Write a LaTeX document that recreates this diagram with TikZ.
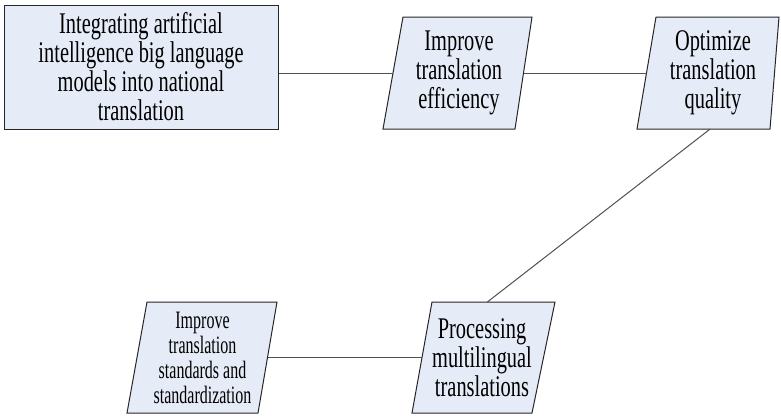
\documentclass[tikz,border=0pt]{standalone}
\usepackage{fontspec}
\setmainfont{Liberation Serif}
\newfontfamily\bigfont[FakeStretch=0.68]{Liberation Serif}
\newfontfamily\smallfont[FakeStretch=0.64]{Liberation Serif}
\usetikzlibrary{calc}
\definecolor{boxfill}{RGB}{230,236,247}
\definecolor{linegray}{RGB}{80,80,80}
\tikzset{
  box/.style={draw=black!85, line width=1pt, fill=boxfill},
  conn/.style={draw=linegray, line width=1pt},
  bigtext/.style={align=center, font=\bigfont\fontsize{30}{29}\selectfont, inner sep=0pt},
  smalltext/.style={align=center, font=\smallfont\fontsize{25}{25}\selectfont, inner sep=0pt}
}
% #1 style, #2 name, #3 ytop, #4 ybot, #5 tlx, #6 trx, #7 blx, #8 brx, #9 text
\newcommand\para[9][bigtext]{%
  \coordinate (#2-tl) at (#5,#3);
  \coordinate (#2-tr) at (#6,#3);
  \coordinate (#2-bl) at (#7,#4);
  \coordinate (#2-br) at (#8,#4);
  \draw[box] (#2-tl) -- (#2-tr) -- (#2-br) -- (#2-bl) -- cycle;
  \coordinate (#2-l) at ($(#2-tl)!0.5!(#2-bl)$);
  \coordinate (#2-r) at ($(#2-tr)!0.5!(#2-br)$);
  \node[#1] (#2) at ($(#2-tl)!0.5!(#2-br)$) {#9};
}
\begin{document}
\begin{tikzpicture}[x=1pt,y=-1pt]
\useasboundingbox (0,0) rectangle (781,415);
\node[box, bigtext, minimum width=274pt, minimum height=124pt] (rect) at (141,67)
  {Integrating artificial\\intelligence big language\\models into national\\translation};
\para{p1}{17}{129}{403}{532}{383}{515}{Improve\\translation\\efficiency}
\para{p2}{17}{129}{656}{779}{637}{770}{Optimize\\translation\\quality}
\para{p3}{302}{413}{432}{555}{412}{532}{Processing\\multilingual\\translations}
\para[smalltext]{p4}{302}{413}{147}{277}{127}{258}{Improve\\translation\\standards and\\standardization}
\draw[conn] (rect.east |- p1-l) -- (p1-l);
\draw[conn] (p1-r) -- (p2-l);
\draw[conn] ($(p2-bl)!0.55!(p2-br)$) -- ($(p3-tl)!0.45!(p3-tr)$);
\draw[conn] (p4-r) -- (p3-l);
\end{tikzpicture}
\end{document}
